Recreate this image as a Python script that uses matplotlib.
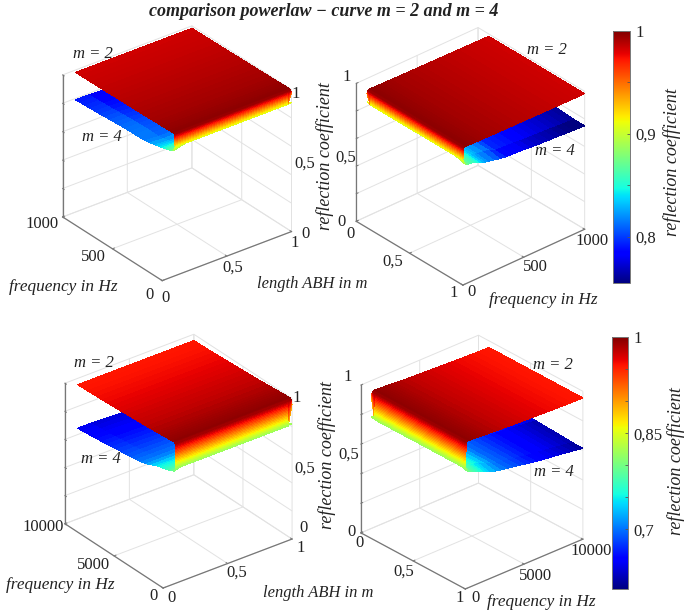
import numpy as np
import matplotlib
matplotlib.use("Agg")
import matplotlib.pyplot as plt
from matplotlib.colors import Normalize
from matplotlib.cm import ScalarMappable
from mpl_toolkits.mplot3d import proj3d

W, H = 685, 611
SERIF = "Liberation Serif"
JET = plt.get_cmap("jet", 1024)

# ---------------- data ----------------
freq_low = [1, 2, 3, 4, 5, 6, 7, 8, 9, 10, 12, 14, 16, 18, 20,
            30, 40, 50, 60, 80, 100, 125, 150, 175, 200, 250, 300, 350, 400, 450, 500,
            550, 600, 650, 700, 750, 800, 850, 900, 950, 1000]
freq_high = [10, 20, 30, 40, 50, 60, 70, 80, 90, 100, 120, 140, 160, 180, 200,
             300, 400, 500, 600, 800, 1000, 1250, 1500, 1750, 2000, 2500, 3000, 3500, 4000, 4500, 5000,
             5500, 6000, 6500, 7000, 7500, 8000, 8500, 9000, 9500, 10000]
freq_low_m2 = [0.5, 1, 1.5, 2, 2.5, 3, 3.5, 4, 4.5, 5, 5.5, 6, 6.5, 7, 7.5, 8, 8.5, 9, 9.5, 10, 12, 14, 16, 18, 20,
               30, 40, 50, 60, 80, 100, 125, 150, 175, 200, 250, 300, 350, 400, 450, 500,
               550, 600, 650, 700, 750, 800, 850, 900, 950, 1000]
freq_high_m2 = [5, 10, 15, 20, 25, 30, 35, 40, 45, 50, 55, 60, 65, 70, 75, 80, 85, 90, 95, 100, 120, 140, 160, 180, 200,
                300, 400, 500, 600, 800, 1000, 1250, 1500, 1750, 2000, 2500, 3000, 3500, 4000, 4500, 5000,
                5500, 6000, 6500, 7000, 7500, 8000, 8500, 9000, 9500, 10000]

m2_low_tail = [.997, .9965, .9965, .996, .9955, .995, .9945, .994, .9935, .993, .992, .9913, .9906, .99, .9893,
               .9886, .988, .9874, .9868, .9862, .9856, .985, .9845, .984, .9835, .983]
m2_low_skirt = [.905, .912, .919, .926, .933, .94, .947, .954, .961, .967, .972, .977, .981, .985, .988, .99,
                .992, .993, .994, .995, .9955, .996, .9965, .9968, .997] + m2_low_tail
m2_low_round = [.972, .974, .976, .978, .98, .981, .982, .983, .984, .985, .986, .987, .988, .989, .99, .99,
                .992, .993, .994, .995, .9955, .996, .9965, .9968, .997] + m2_low_tail

m4_low_start = [.90, .90, .90, .895, .895, .89, .89, .885, .885, .88, .88, .875, .875, .872, .87,
                .865, .863, .861, .859, .855, .85, .845, .84, .836, .832, .824, .817, .815, .814, .813,
                .812, .81, .808, .806, .803, .80, .798, .796, .794, .792, .79]
m4_low_end = [.90, .90, .90, .895, .895, .89, .89, .885, .885, .88, .88, .875, .875, .872, .87,
              .862, .86, .858, .857, .855, .85, .84, .83, .82, .815, .805, .795, .788, .785, .782,
              .78, .775, .771, .769, .766, .764, .761, .758, .755, .752, .75]
m4_low_under = [.91, .91, .91, .91, .905, .905, .905, .905, .905, .90, .90, .90, .90, .90, .895,
                .885, .88, .875, .87, .862, .855, .845, .835, .83, .825, .818, .81]
m4_low_under_start = m4_low_under + [.815, .814, .813, .812, .81, .808, .806, .803, .80, .798, .796, .794, .792, .79]
m4_low_under_mid = m4_low_under + [.802, .8, .798, .796, .793, .79, .788, .785, .782, .78, .777, .775, .772, .77]
m4_low_under_end = m4_low_under + [.788, .785, .782, .78, .775, .771, .769, .766, .764, .761, .758, .755, .752, .75]

m2_high_tail = [.995, .994, .9935, .993, .992, .991, .9895, .988, .9865, .985, .982, .979, .977, .975, .973,
                .971, .969, .967, .965, .963, .961, .96, .958, .957, .956, .955]
m2_high_skirt = [.815, .825, .835, .845, .855, .865, .875, .885, .895, .905, .915, .925, .935, .945, .955, .965,
                 .972, .978, .983, .987, .99, .992, .993, .994, .995] + m2_high_tail
m2_high_round = [.955, .958, .961, .964, .967, .97, .972, .974, .976, .978, .98, .982, .984, .985, .986, .987,
                 .988, .989, .99, .991, .992, .992, .993, .994, .995] + m2_high_tail

m4_high_start = [.82, .82, .818, .818, .815, .812, .81, .808, .805, .80, .797, .795, .792, .79, .788,
                 .785, .78, .778, .775, .77, .765, .76, .755, .75, .745, .727, .712, .702, .696, .69,
                 .686, .681, .677, .672, .668, .663, .659, .655, .651, .648, .645]
m4_high_end = [.82, .82, .818, .818, .815, .812, .81, .808, .805, .80, .797, .795, .792, .79, .788,
               .785, .78, .775, .772, .768, .762, .752, .742, .733, .725, .712, .703, .696, .69, .683,
               .675, .667, .66, .654, .649, .644, .639, .633, .627, .621, .615]
m4_high_under = [.82, .82, .82, .82, .82, .82, .82, .82, .82, .82, .82, .815, .815, .815, .815,
                 .805, .80, .795, .79, .782, .775, .765, .755, .75, .742, .727, .712]
m4_high_under_start = m4_high_under + [.702, .696, .69, .686, .681, .677, .672, .668, .663, .659, .655, .651, .648, .645]
m4_high_under_mid = m4_high_under + [.699, .693, .687, .68, .674, .668, .663, .658, .654, .649, .644, .639, .634, .63]
m4_high_under_end = m4_high_under + [.696, .69, .683, .675, .667, .66, .654, .649, .644, .639, .633, .627, .621, .615]

length_m4_tip_far = [0.1, 0.2, 0.55, 1.0]
length_m4_tip_near = [0.1, 0.55, 0.9, 1.0]
length_m2_round_far = [0.1, 0.55, 0.97, 1.0]
length_m2_round_near = [0.1, 0.13, 0.55, 1.0]

range_low = (0.755, 1.0)
range_high = (0.607, 1.0)

length_ticks = [0, 0.5, 1]
length_tick_labels = ["0", "0,5", "1"]
z_ticks = [0, 0.2, 0.4, 0.6, 0.8, 1.0]
z_tick_labels = ["0", "0,5", "1"]
freq_ticks_low = [0, 500, 1000]
freq_labels_low = ["0", "500", "1000"]
freq_ticks_high = [0, 5000, 10000]
freq_labels_high = ["0", "5000", "10000"]
cbar_ticks_low = [0.8, 0.85, 0.9, 0.95, 1.0]
cbar_labels_low = ["0,8", "", "0,9", "", "1"]
cbar_ticks_high = [0.7, 0.75, 0.8, 0.85, 0.9, 0.95, 1.0]
cbar_labels_high = ["0,7", "", "", "0,85", "", "", "1"]

title = "comparison powerlaw \u2212 curve m = 2 and m = 4"
zlabel = "reflection coefficient"
flabel = "frequency in Hz"
llabel = "length ABH in m"

# ---------------- layout ----------------
panels = [
    dict(view=(29.5, -127.6), aspect=(1, 1, 1), fmax=1000, freq=freq_low, freq2=freq_low_m2, rng=range_low,
         bottom=(163, 280), left=(62, 216), right=(292, 232), lefttop=(62, 76),
         m2=[m2_low_skirt, m2_low_skirt, m2_low_skirt, m2_low_round], L2=length_m2_round_far,
         m4=[m4_low_start, m4_low_under_start, m4_low_under_mid, m4_low_under_end], L4=length_m4_tip_far,
         near_left=True, ftl=freq_labels_low, ft=freq_ticks_low,
         ftp=[(149, 295), (93, 257), (42, 224)], ltp=[(166, 298), (233, 268), (295, 243)],
         ztp=[(305, 234), (305, 164), (296, 94)],
         flab=(63, 287), llab=(312, 284), m2p=(93, 54), m4p=(102, 137)),
    dict(view=(31.6, -41.2), aspect=(1, 1, 1), fmax=1000, freq=freq_low, freq2=freq_low_m2, rng=range_low,
         bottom=(463, 285), left=(356, 221), right=(585, 229), lefttop=(356, 84),
         m2=[m2_low_round, m2_low_skirt, m2_low_skirt, m2_low_skirt], L2=length_m2_round_near,
         m4=[m4_low_under_start, m4_low_under_mid, m4_low_under_end, m4_low_end], L4=length_m4_tip_near,
         near_left=False, ftl=freq_labels_low, ft=freq_ticks_low,
         ftp=[(472, 292), (535, 267), (592, 241)], ltp=[(350, 234), (393, 262), (454, 293)],
         ztp=[(342, 222), (346, 158), (347, 77)],
         flab=(543, 300), llab=None, m2p=(547, 50), m4p=(555, 151)),
    dict(view=(29.9, -127.3), aspect=(1, 1, 1), fmax=10000, freq=freq_high, freq2=freq_high_m2, rng=range_high,
         bottom=(163, 588), left=(65, 524), right=(292, 539), lefttop=(65, 383),
         m2=[m2_high_skirt, m2_high_skirt, m2_high_skirt, m2_high_round], L2=length_m2_round_far,
         m4=[m4_high_start, m4_high_under_start, m4_high_under_mid, m4_high_under_end], L4=length_m4_tip_far,
         near_left=True, ftl=freq_labels_high, ft=freq_ticks_high,
         ftp=[(154, 596), (94, 565), (43, 527)], ltp=[(171, 598), (237, 573), (301, 548)],
         ztp=[(303, 528), (305, 469), (297, 398)],
         flab=(60, 585), llab=(318, 593), m2p=(94, 363), m4p=(101, 459)),
    dict(view=(28.5, -41.6), aspect=(1, 1, 1.07), fmax=10000, freq=freq_high, freq2=freq_high_m2, rng=range_high,
         bottom=(465, 589), left=(361, 533), right=(583, 539), lefttop=(361, 385),
         m2=[m2_high_round, m2_high_skirt, m2_high_skirt, m2_high_skirt], L2=length_m2_round_near,
         m4=[m4_high_under_start, m4_high_under_mid, m4_high_under_end, m4_high_end], L4=length_m4_tip_near,
         near_left=False, ftl=freq_labels_high, ft=freq_ticks_high,
         ftp=[(475, 598), (535, 576), (591, 551)], ltp=[(359, 543), (404, 572), (460, 598)],
         ztp=[(351, 532), (349, 455), (348, 377)],
         flab=(541, 602), llab=None, m2p=(553, 365), m4p=(554, 472)),
]

fig = plt.figure(figsize=(W / 100, H / 100), dpi=100, facecolor="white")


def put(x, y, s, size=12, style="normal", weight="normal", rotation=0):
    fig.text(x / W, 1 - y / H, s, ha="center", va="center", family=SERIF, fontsize=size,
             style=style, weight=weight, rotation=rotation, color="#222222")


GRID = "#e2e2e2"
AXC = "#777777"

for p in panels:
    ax = fig.add_axes([0.2, 0.2, 0.5, 0.5 * W / H], projection="3d", proj_type="ortho")
    ax.patch.set_alpha(0)
    ax.computed_zorder = False
    ax.view_init(elev=p["view"][0], azim=p["view"][1])
    ax.set_box_aspect(p["aspect"], zoom=1)
    ax.set_xlim(0, 1, view_margin=0)
    ax.set_ylim(0, p["fmax"], view_margin=0)
    ax.set_zlim(0, 1, view_margin=0)
    ax.set_xticks(length_ticks)
    ax.set_yticks(p["ft"])
    ax.set_zticks(z_ticks)
    ax.set_xticklabels([])
    ax.set_yticklabels([])
    ax.set_zticklabels([])
    for axis in (ax.xaxis, ax.yaxis, ax.zaxis):
        axis.set_pane_color((1, 1, 1, 0))
        axis.pane.set_edgecolor(GRID)
        axis.pane.set_linewidth(0.7)
        axis.line.set_color((1, 1, 1, 0))
        axis._axinfo["grid"].update(color=GRID, linewidth=0.7)
        axis._axinfo["tick"].update(inward_factor=0, outward_factor=0)

    # axis lines
    fm = p["fmax"]
    near = 0 if p["near_left"] else 1
    zedge = (0, fm) if p["near_left"] else (0, 0)
    ax.plot3D([0, 1], [0, 0], [0, 0], color=AXC, lw=0.9, zorder=0.5)
    ax.plot3D([near, near], [0, fm], [0, 0], color=AXC, lw=0.9, zorder=0.5)
    ax.plot3D([zedge[0]] * 2, [zedge[1]] * 2, [0, 1], color=AXC, lw=0.9, zorder=0.5)
    sign = 1 if p["near_left"] else -1
    for t in length_ticks:
        ax.plot3D([t, t], [0, 0.015 * fm], [0, 0], color=AXC, lw=0.7, zorder=0.5)
    for t in p["ft"]:
        ax.plot3D([near, near + sign * 0.015], [t, t], [0, 0], color=AXC, lw=0.7, zorder=0.5)
    zsign = -1 if p["near_left"] else 1
    for t in z_ticks:
        ax.plot3D([zedge[0]] * 2, [zedge[1], zedge[1] + zsign * 0.015 * fm], [t, t], color=AXC, lw=0.7, zorder=0.5)

    norm = Normalize(*p["rng"])
    F4, L4 = np.meshgrid(p["freq"], p["L4"])
    ax.plot_surface(L4, F4, np.array(p["m4"]), cmap=JET, norm=norm, rstride=1, cstride=1,
                    linewidth=0, antialiased=False, shade=False, zorder=1)
    F2, L2 = np.meshgrid(p["freq2"], p["L2"])
    ax.plot_surface(L2, F2, np.array(p["m2"]), cmap=JET, norm=norm, rstride=1, cstride=1,
                    linewidth=0, antialiased=False, shade=False, zorder=2)

    # fit the box onto the picture's corners
    corners = [(0, 0, 0) if p["near_left"] else (1, 0, 0),
               (0, fm, 0) if p["near_left"] else (0, 0, 0),
               (1, 0, 0) if p["near_left"] else (1, fm, 0),
               (0, fm, 1) if p["near_left"] else (0, 0, 1)]
    target = np.array([p["bottom"], p["left"], p["right"], p["lefttop"]], float)
    target[:, 1] = H - target[:, 1]
    ax.apply_aspect()
    M = ax.get_proj()
    xs, ys, _ = proj3d.proj_transform(*np.array(corners, float).T, M)
    cur = ax.transData.transform(np.column_stack([xs, ys]))
    cm, tm = cur.mean(0), target.mean(0)
    s = ((target - tm) * (cur - cm)).sum() / ((cur - cm) ** 2).sum()
    bb = ax.get_position()
    cx, cy = (bb.x0 + bb.x1) / 2 * W, (bb.y0 + bb.y1) / 2 * H
    wpx, hpx = bb.width * W * s, bb.height * H * s
    ncx = tm[0] - s * (cm[0] - cx)
    ncy = tm[1] - s * (cm[1] - cy)
    ax.set_position([(ncx - wpx / 2) / W, (ncy - hpx / 2) / H, wpx / W, hpx / H])

    # texts
    for (x, y), s_ in zip(p["ftp"], p["ftl"]):
        put(x, y, s_)
    for (x, y), s_ in zip(p["ltp"], length_tick_labels):
        put(x, y, s_)
    for (x, y), s_ in zip(p["ztp"], z_tick_labels):
        put(x, y, s_)
    put(*p["flab"], flabel, size=12.4, style="italic")
    if p["llab"]:
        put(*p["llab"], llabel, size=11.9, style="italic")
    put(*p["m2p"], "m = 2", size=12, style="italic")
    put(*p["m4p"], "m = 4", size=12, style="italic")

put(325, 156, zlabel, size=13, style="italic", rotation=90)
put(327, 455, zlabel, size=13, style="italic", rotation=90)
put(672, 162, zlabel, size=13, style="italic", rotation=90)
put(676, 461, zlabel, size=13, style="italic", rotation=90)
put(324, 11, title, size=13, style="italic", weight="bold")

# colour bars
for box, rng, ticks, labels in [((613, 31, 630, 283), range_low, cbar_ticks_low, cbar_labels_low),
                                ((612, 337, 628, 589), range_high, cbar_ticks_high, cbar_labels_high)]:
    cax = fig.add_axes([box[0] / W, 1 - box[3] / H, (box[2] - box[0]) / W, (box[3] - box[1]) / H])
    sm = ScalarMappable(norm=Normalize(*rng), cmap=JET)
    cb = fig.colorbar(sm, cax=cax)
    cb.set_ticks(ticks)
    cb.set_ticklabels(labels)
    cax.tick_params(direction="in", length=2, width=0.6, color="#555555", pad=4, labelsize=12)
    for t in cax.get_yticklabels():
        t.set_family(SERIF)
        t.set_color("#222222")
    cb.outline.set_edgecolor("#777777")
    cb.outline.set_linewidth(0.7)

fig.savefig("out.png", dpi=100, facecolor="white")
